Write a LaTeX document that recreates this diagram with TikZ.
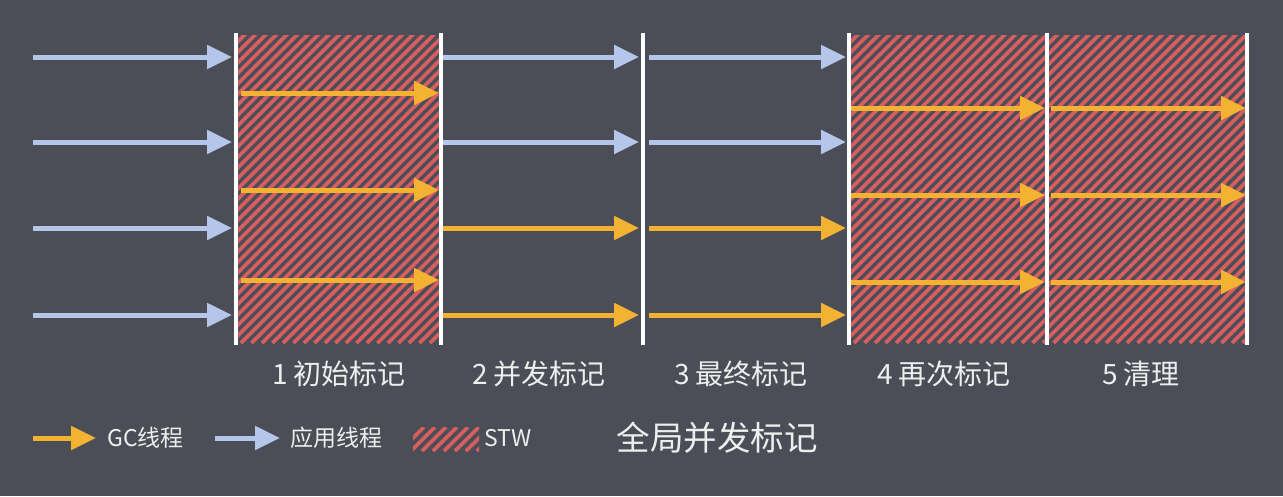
\documentclass[tikz,border=0pt]{standalone}
\usepackage{fontspec}
\setmainfont{Noto Sans CJK SC}
\usetikzlibrary{arrows.meta, positioning}
\definecolor{bgGrey}{HTML}{4B4E57}
\definecolor{appBlue}{HTML}{B4C6EA}
\definecolor{gcOrange}{HTML}{F4B233}
\definecolor{stwRed}{HTML}{D75E5E}
\definecolor{txtWhite}{HTML}{EEEEEE}
\tikzset{
  % thread arrows, drawn in pixel units of the slide
  appthread/.style = {appBlue,  line width=5pt, -{Triangle[length=25pt, width=23pt]}},
  gcthread/.style  = {gcOrange, line width=5pt, -{Triangle[length=25pt, width=23pt]}},
  stripe/.style    = {stwRed, line width=3.6pt},
  bar/.style       = {white, line width=4pt},
  phase/.style     = {font=\fontsize{28}{30}\selectfont, txtWhite},
  lgd/.style       = {font=\fontsize{23}{26}\selectfont, txtWhite, inner sep=0pt},
}

\begin{document}
\begin{tikzpicture}[x=1pt, y=-1pt]
\useasboundingbox[fill=bgGrey] (0,0) rectangle (1283,496);

% ---- STW areas: red hatching --------------------------------------------
\foreach \xa/\xb in {236/441, 849/1247} {
  \begin{scope}
    \clip (\xa,35) rectangle (\xb,343);
    \foreach \s in {0,...,70}
      \draw[stripe] (\xa-310+\s*10.5,343) -- ++(310,-310);
  \end{scope}
}

% ---- phase borders -------------------------------------------------------
\foreach \x in {236,441,643,849,1047,1247}
  \draw[bar] (\x,33) -- (\x,345);

% ---- threads in each phase -----------------------------------------------
\foreach \y in {57,142,228,315} \draw[appthread] (33,\y) -- (232,\y);
\foreach \y in {93,190,280}     \draw[gcthread]  (241,\y) -- (439,\y);
\foreach \y in {57,142}         \draw[appthread] (443,\y) -- (639,\y);
\foreach \y in {228,315}        \draw[gcthread]  (443,\y) -- (639,\y);
\foreach \y in {57,142}         \draw[appthread] (649,\y) -- (846,\y);
\foreach \y in {228,315}        \draw[gcthread]  (649,\y) -- (846,\y);
\foreach \y in {108,195,282} {
  \draw[gcthread] (851,\y) -- (1045,\y);
  \draw[gcthread] (1051,\y) -- (1246,\y);
}

% ---- phase names ---------------------------------------------------------
\node[phase] (p1) at (339,374)   {1 初始标记};
\node[phase] (p2) at (539,374)   {2 并发标记};
\node[phase] (p3) at (741,374)   {3 最终标记};
\node[phase] (p4) at (944,374)   {4 再次标记};
\node[phase] (p5) at (1141,374)  {5 清理};

% ---- legend --------------------------------------------------------------
\node[lgd, anchor=west] (gclbl)  at (107,438) {GC线程};
\node[lgd, anchor=west] (applbl) at (290,438) {应用线程};
\node[lgd, anchor=west] (stwlbl) at (484,438) {STW};
\coordinate (gcstart)  at (33,438);
\coordinate (appstart) at (215,438);
\draw[gcthread]  (gcstart)  -- ([xshift=-11pt]gclbl.west);
\draw[appthread] (appstart) -- ([xshift=-10pt]applbl.west);
\begin{scope}
  \clip (413,427) rectangle (479,451);
  \foreach \s in {0,...,9}
    \draw[stripe] (400+\s*11,451) -- ++(24,-24);
\end{scope}
\node[font=\fontsize{33.5}{38}\selectfont, txtWhite, anchor=west] (title) at (613,438) {全局并发标记};
\end{tikzpicture}
\end{document}
